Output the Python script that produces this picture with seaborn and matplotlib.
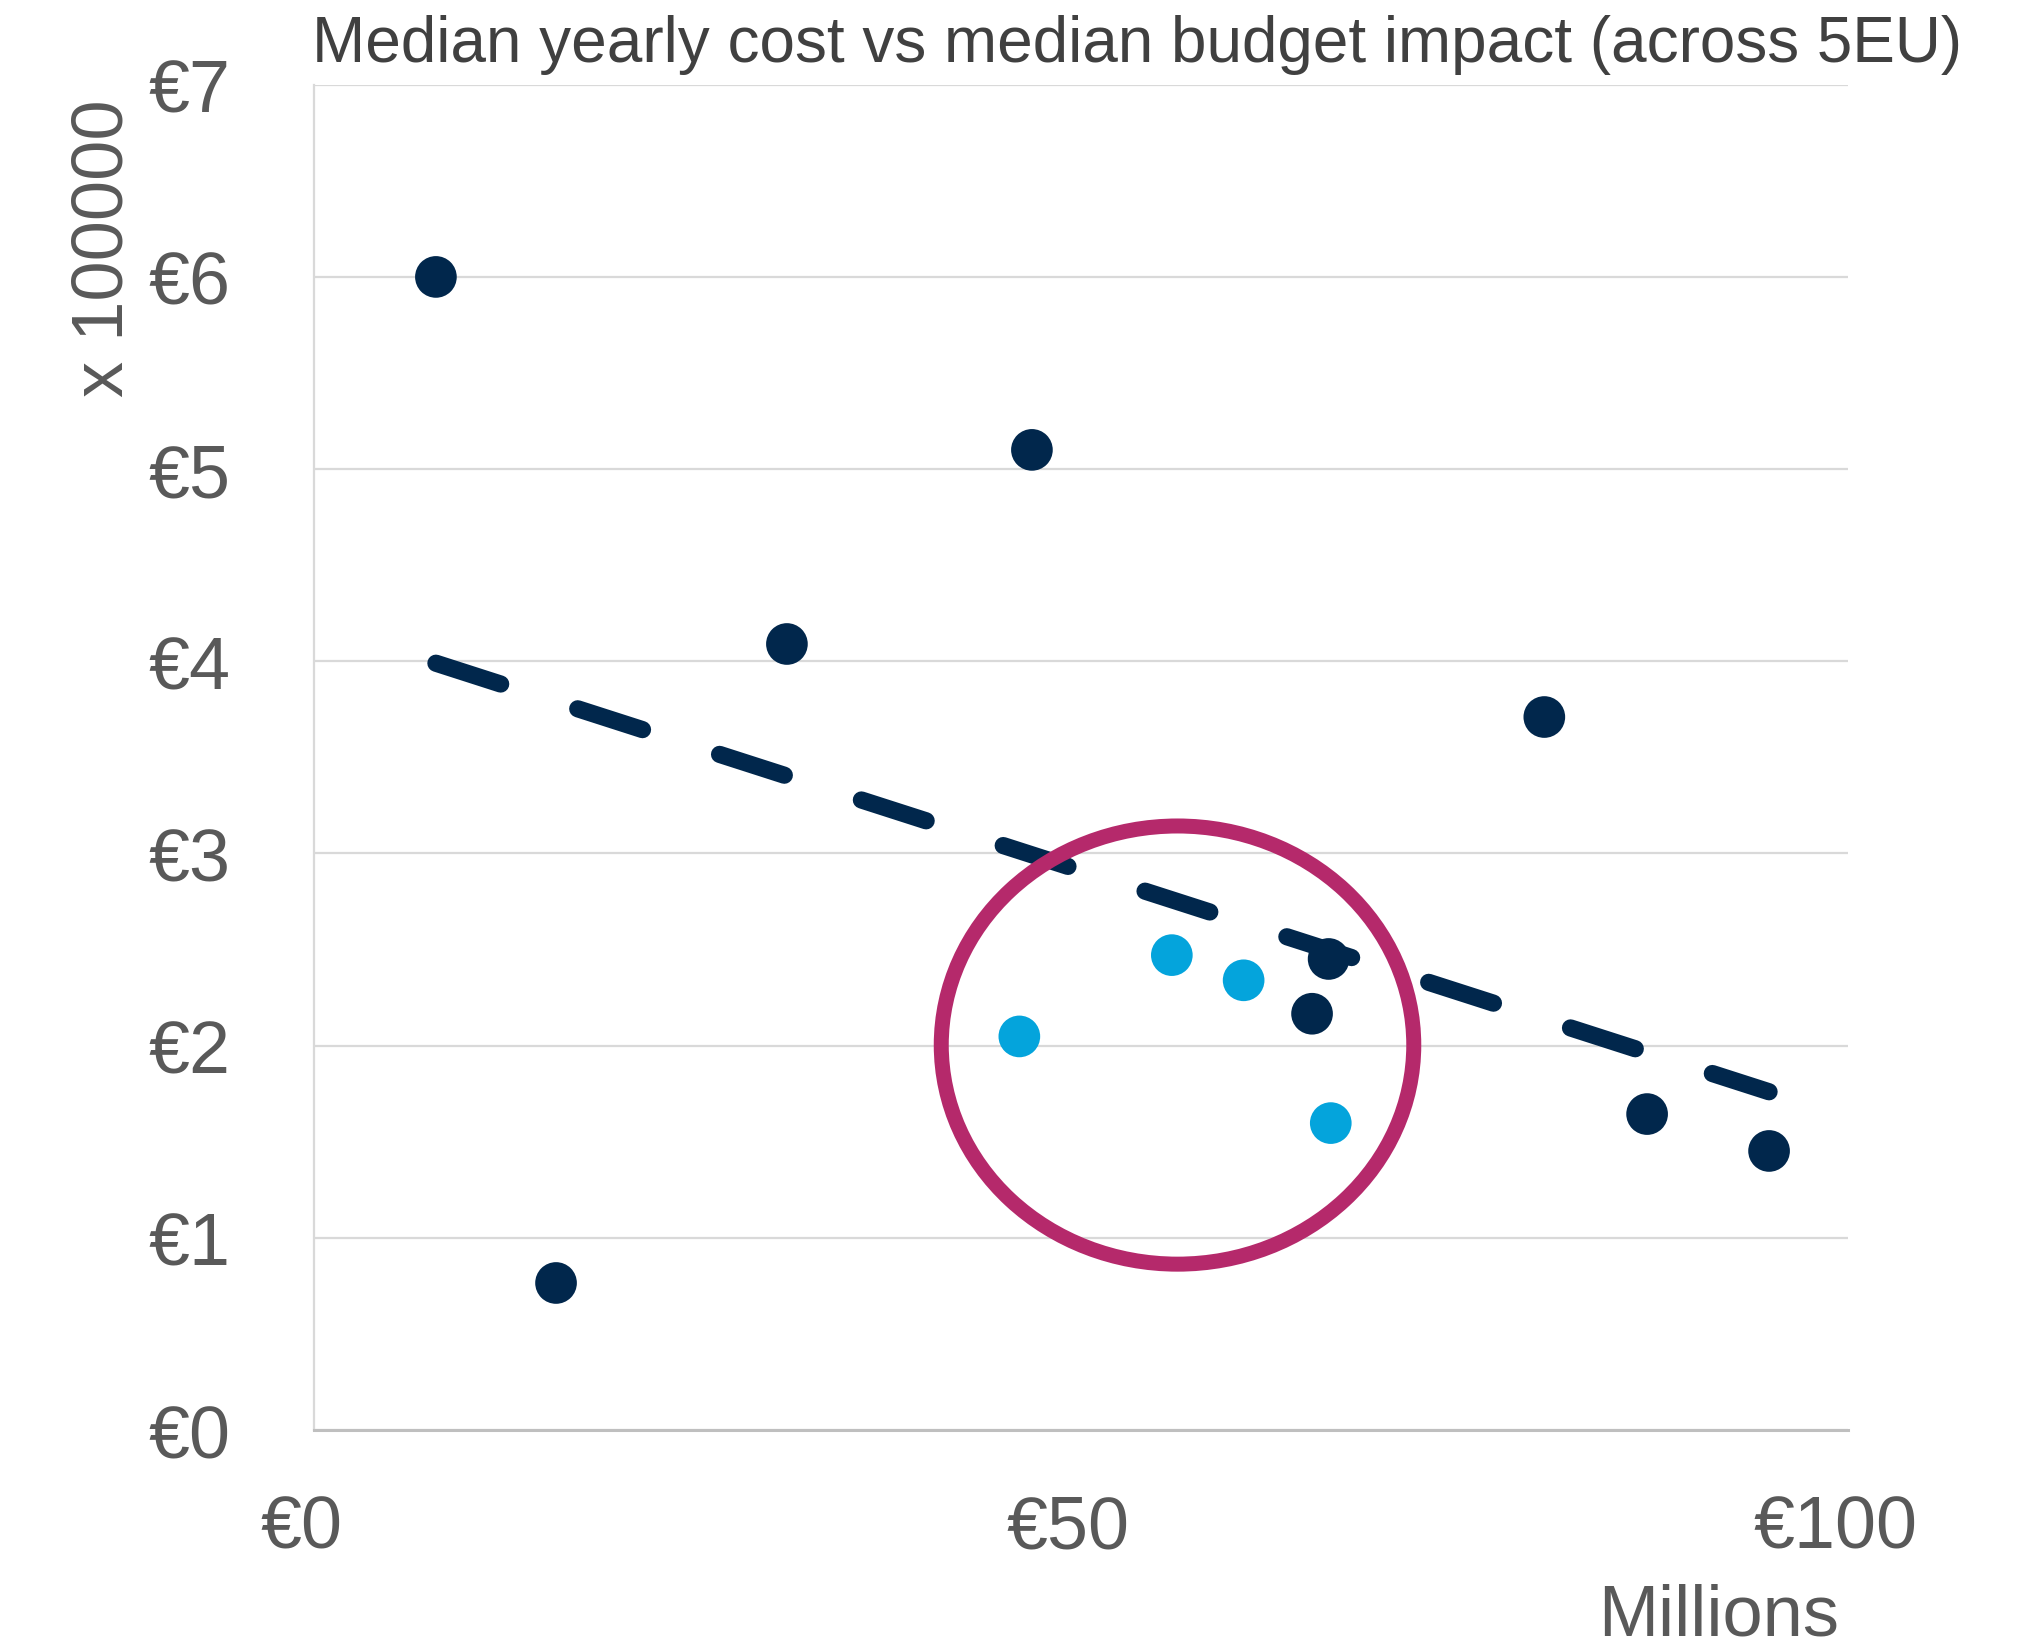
import matplotlib
matplotlib.use("Agg")

import matplotlib.pyplot as plt
import matplotlib.transforms as mtransforms
import seaborn as sns
import pandas as pd
from matplotlib.patches import Ellipse

# ── Data ─────────────────────────────────────────────────────────────────────
budget_dark = [7.95, 15.78, 30.83, 46.8, 80.2, 66.14, 65.06, 86.9, 94.85]
cost_dark = [6.00, 0.765, 4.09, 5.10, 3.71, 2.451, 2.166, 1.644, 1.452]

budget_light = [45.98, 55.92, 60.6, 66.28]
cost_light = [2.048, 2.471, 2.340, 1.597]

trend_x = [7.95, 94.85]
trend_y = [3.99, 1.76]

x_ticks = [0, 50, 100]
x_labels = ["€0", "€50", "€100"]
y_ticks = [0, 1, 2, 3, 4, 5, 6, 7]
y_labels = ["€0", "€1", "€2", "€3", "€4", "€5", "€6", "€7"]

NAVY = "#01274C"
LIGHT = "#04A4DC"
MAGENTA = "#B5296B"
GRID = "#D9D9D9"
TEXT = "#595959"

df = pd.DataFrame({
    "budget": budget_dark + budget_light,
    "cost": cost_dark + cost_light,
    "group": ["dark"] * len(budget_dark) + ["light"] * len(budget_light),
})

# ── Figure ───────────────────────────────────────────────────────────────────
sns.set_style("white")
plt.rcParams["font.family"] = ["Liberation Sans", "DejaVu Sans"]

fig = plt.figure(figsize=(20.36, 16.49), dpi=100)
ax = fig.add_axes([0.1542, 0.1322, 0.9077 - 0.1542, 0.948 - 0.1322])

ax.plot(trend_x, trend_y, color=NAVY, lw=12.4, dashes=(3.95, 4.7),
        dash_capstyle="round", solid_capstyle="round", zorder=2)

sns.scatterplot(data=df, x="budget", y="cost", hue="group",
                palette={"dark": NAVY, "light": LIGHT}, s=900,
                linewidth=0, legend=False, ax=ax, zorder=3)

ell = Ellipse((56.29, 2.003), 30.8, 2.28, fill=False, edgecolor=MAGENTA,
              lw=10.8, zorder=4)
ax.add_patch(ell)

ax.set_xlim(0, 100)
ax.set_ylim(0, 7)
ax.set_xticks(x_ticks)
ax.set_xticklabels(x_labels)
ax.set_yticks(y_ticks)
ax.set_yticklabels(y_labels)
ax.set_xlabel("")
ax.set_ylabel("")

ax.grid(axis="y", color=GRID, lw=1.6)
ax.grid(axis="x", visible=False)
ax.set_axisbelow(True)
for s in ["top", "right"]:
    ax.spines[s].set_visible(False)
ax.spines["left"].set_color(GRID)
ax.spines["left"].set_linewidth(1.6)
ax.spines["bottom"].set_color("#BFBFBF")
ax.spines["bottom"].set_linewidth(2.2)

ax.tick_params(axis="both", length=0, labelsize=53, colors=TEXT)
ax.tick_params(axis="y", pad=60)
ax.tick_params(axis="x", pad=46)

# x tick labels sit a little left of their ticks in the reference
shift = mtransforms.ScaledTranslation(-13 / 100, 0, fig.dpi_scale_trans)
for lab in ax.get_xticklabels():
    lab.set_transform(lab.get_transform() + shift)

fig.text(312 / 2036, 1 - 62 / 1649,
         "Median yearly cost vs median budget impact (across 5EU)",
         fontsize=46, color="#404040", ha="left", va="baseline")
fig.text(104 / 2036, 1 - 248 / 1649, "x 100000", rotation=90,
         fontsize=52, color=TEXT, ha="center", va="center")
fig.text(1839 / 2036, 1 - 1636 / 1649, "Millions",
         fontsize=52, color=TEXT, ha="right", va="baseline")

plt.savefig("out.png", dpi=100)
plt.close()
